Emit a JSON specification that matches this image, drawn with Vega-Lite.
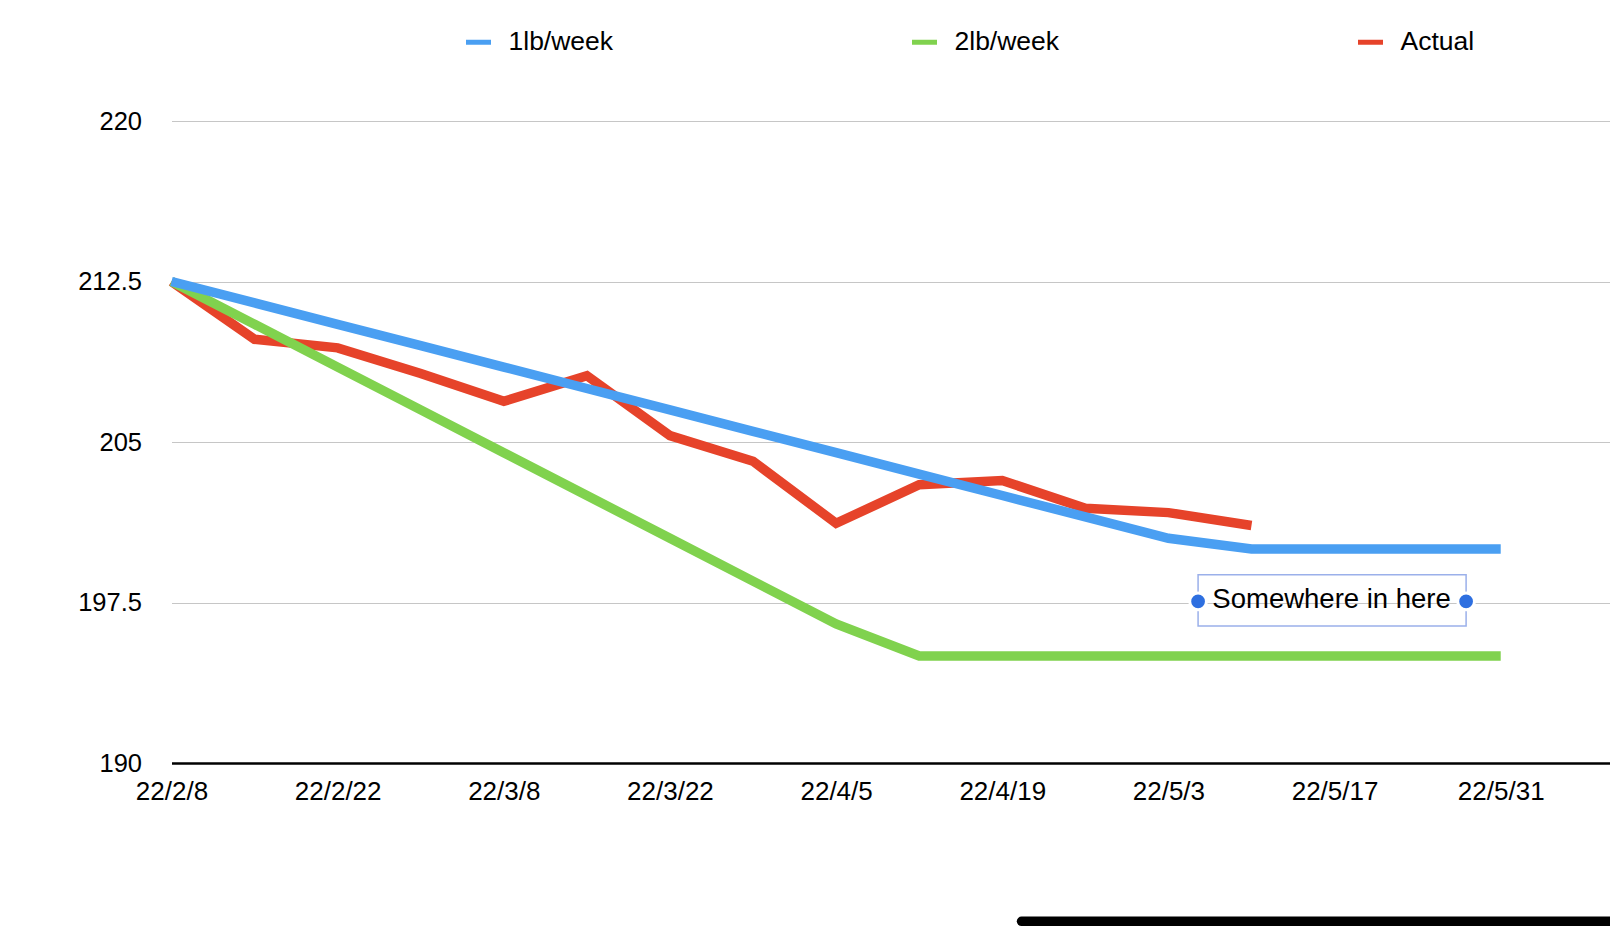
{
  "$schema": "https://vega.github.io/schema/vega-lite/v6.json",
  "width": 1438.5,
  "height": 642,
  "autosize": {"type": "none"},
  "padding": {"left": 171.5, "top": 121, "right": 0, "bottom": 180},
  "background": "white",
  "config": {"view": {"stroke": null}, "font": "Liberation Sans"},
  "datasets": {
    "series": [
      {"date": "2022-02-08", "series": "Actual", "weight": 212.5},
      {"date": "2022-02-15", "series": "Actual", "weight": 209.8},
      {"date": "2022-02-22", "series": "Actual", "weight": 209.4},
      {"date": "2022-03-01", "series": "Actual", "weight": 208.2},
      {"date": "2022-03-08", "series": "Actual", "weight": 206.9},
      {"date": "2022-03-15", "series": "Actual", "weight": 208.1},
      {"date": "2022-03-22", "series": "Actual", "weight": 205.3},
      {"date": "2022-03-29", "series": "Actual", "weight": 204.1},
      {"date": "2022-04-05", "series": "Actual", "weight": 201.2},
      {"date": "2022-04-12", "series": "Actual", "weight": 203.0},
      {"date": "2022-04-19", "series": "Actual", "weight": 203.2},
      {"date": "2022-04-26", "series": "Actual", "weight": 201.9},
      {"date": "2022-05-03", "series": "Actual", "weight": 201.7},
      {"date": "2022-05-10", "series": "Actual", "weight": 201.1},
      {"date": "2022-02-08", "series": "2lb/week", "weight": 212.5},
      {"date": "2022-02-15", "series": "2lb/week", "weight": 210.5},
      {"date": "2022-02-22", "series": "2lb/week", "weight": 208.5},
      {"date": "2022-03-01", "series": "2lb/week", "weight": 206.5},
      {"date": "2022-03-08", "series": "2lb/week", "weight": 204.5},
      {"date": "2022-03-15", "series": "2lb/week", "weight": 202.5},
      {"date": "2022-03-22", "series": "2lb/week", "weight": 200.5},
      {"date": "2022-03-29", "series": "2lb/week", "weight": 198.5},
      {"date": "2022-04-05", "series": "2lb/week", "weight": 196.5},
      {"date": "2022-04-12", "series": "2lb/week", "weight": 195},
      {"date": "2022-04-19", "series": "2lb/week", "weight": 195},
      {"date": "2022-04-26", "series": "2lb/week", "weight": 195},
      {"date": "2022-05-03", "series": "2lb/week", "weight": 195},
      {"date": "2022-05-10", "series": "2lb/week", "weight": 195},
      {"date": "2022-05-17", "series": "2lb/week", "weight": 195},
      {"date": "2022-05-24", "series": "2lb/week", "weight": 195},
      {"date": "2022-05-31", "series": "2lb/week", "weight": 195},
      {"date": "2022-02-08", "series": "1lb/week", "weight": 212.5},
      {"date": "2022-02-15", "series": "1lb/week", "weight": 211.5},
      {"date": "2022-02-22", "series": "1lb/week", "weight": 210.5},
      {"date": "2022-03-01", "series": "1lb/week", "weight": 209.5},
      {"date": "2022-03-08", "series": "1lb/week", "weight": 208.5},
      {"date": "2022-03-15", "series": "1lb/week", "weight": 207.5},
      {"date": "2022-03-22", "series": "1lb/week", "weight": 206.5},
      {"date": "2022-03-29", "series": "1lb/week", "weight": 205.5},
      {"date": "2022-04-05", "series": "1lb/week", "weight": 204.5},
      {"date": "2022-04-12", "series": "1lb/week", "weight": 203.5},
      {"date": "2022-04-19", "series": "1lb/week", "weight": 202.5},
      {"date": "2022-04-26", "series": "1lb/week", "weight": 201.5},
      {"date": "2022-05-03", "series": "1lb/week", "weight": 200.5},
      {"date": "2022-05-10", "series": "1lb/week", "weight": 200},
      {"date": "2022-05-17", "series": "1lb/week", "weight": 200},
      {"date": "2022-05-24", "series": "1lb/week", "weight": 200},
      {"date": "2022-05-31", "series": "1lb/week", "weight": 200}
    ],
    "note": [
      {"x": "2022-05-05T12:00:00Z", "x2": "2022-05-28T02:00:00Z", "y": 198.8, "y2": 196.4, "tx": "2022-05-16T18:00:00Z", "ty": 197.6, "label": "Somewhere in here"}
    ],
    "handles": [
      {"x": "2022-05-05T12:00:00Z", "y": 197.55},
      {"x": "2022-05-28T02:00:00Z", "y": 197.55}
    ],
    "bar": [
      {"x": "2022-04-20T15:00:00Z", "x2": "2022-06-25T00:00:00Z", "y": 182.6}
    ]
  },
  "layer": [
    {
      "data": {"name": "series"},
      "transform": [{"filter": "datum.series === 'Actual'"}],
      "mark": {"type": "line", "strokeWidth": 9.5},
      "encoding": {
        "x": {
          "field": "date",
          "type": "temporal",
          "scale": {
            "type": "utc",
            "nice": false,
            "domain": [
              {"year": 2022, "month": 2, "date": 8, "utc": true},
              {"year": 2022, "month": 6, "date": 9, "hours": 5, "utc": true}
            ]
          },
          "axis": {
            "title": null,
            "values": [
              {"year": 2022, "month": 2, "date": 8, "utc": true},
              {"year": 2022, "month": 2, "date": 22, "utc": true},
              {"year": 2022, "month": 3, "date": 8, "utc": true},
              {"year": 2022, "month": 3, "date": 22, "utc": true},
              {"year": 2022, "month": 4, "date": 5, "utc": true},
              {"year": 2022, "month": 4, "date": 19, "utc": true},
              {"year": 2022, "month": 5, "date": 3, "utc": true},
              {"year": 2022, "month": 5, "date": 17, "utc": true},
              {"year": 2022, "month": 5, "date": 31, "utc": true}
            ],
            "format": "%y/%-m/%-d",
            "labelFontSize": 26,
            "labelColor": "black",
            "ticks": false,
            "tickSize": 0,
            "domainColor": "black",
            "domainWidth": 2.5,
            "labelPadding": 15,
            "grid": false,
            "labelOverlap": false,
            "labelFlush": false,
            "labelBound": false
          }
        },
        "y": {
          "field": "weight",
          "type": "quantitative",
          "scale": {"domain": [190, 220], "nice": false, "zero": false},
          "axis": {
            "title": null,
            "values": [190, 197.5, 205, 212.5, 220],
            "format": ".1~f",
            "labelFontSize": 25.5,
            "labelColor": "black",
            "ticks": false,
            "tickSize": 0,
            "domain": false,
            "grid": true,
            "gridColor": "#c6c6c6",
            "gridWidth": 1,
            "labelPadding": 30
          }
        },
        "color": {
          "field": "series",
          "type": "nominal",
          "scale": {
            "domain": ["1lb/week", "2lb/week", "Actual"],
            "range": ["#4A9FF2", "#80D24E", "#E6432A"]
          },
          "legend": {
            "title": null,
            "orient": "none",
            "legendX": 292,
            "legendY": -94,
            "direction": "horizontal",
            "gridAlign": "all",
            "columnPadding": 288,
            "symbolType": "stroke",
            "symbolSize": 625,
            "symbolStrokeWidth": 5,
            "labelFontSize": 26.5,
            "labelColor": "black",
            "labelOffset": 15,
            "padding": 0
          }
        }
      }
    },
    {
      "data": {"name": "series"},
      "transform": [{"filter": "datum.series === '2lb/week'"}],
      "mark": {"type": "line", "strokeWidth": 9.5},
      "encoding": {
        "x": {"field": "date", "type": "temporal"},
        "y": {"field": "weight", "type": "quantitative"},
        "color": {"field": "series", "type": "nominal"}
      }
    },
    {
      "data": {"name": "series"},
      "transform": [{"filter": "datum.series === '1lb/week'"}],
      "mark": {"type": "line", "strokeWidth": 9.5},
      "encoding": {
        "x": {"field": "date", "type": "temporal"},
        "y": {"field": "weight", "type": "quantitative"},
        "color": {"field": "series", "type": "nominal"}
      }
    },
    {
      "data": {"name": "note"},
      "mark": {"type": "rect", "fillOpacity": 0, "stroke": "#9BB0EA", "strokeWidth": 1.5},
      "encoding": {
        "x": {"field": "x", "type": "temporal"},
        "x2": {"field": "x2"},
        "y": {"field": "y", "type": "quantitative"},
        "y2": {"field": "y2"}
      }
    },
    {
      "data": {"name": "note"},
      "mark": {"type": "text", "fontSize": 27.5, "color": "black", "align": "center", "baseline": "middle"},
      "encoding": {
        "x": {"field": "tx", "type": "temporal"},
        "y": {"field": "ty", "type": "quantitative"},
        "text": {"field": "label"}
      }
    },
    {
      "data": {"name": "handles"},
      "mark": {"type": "circle", "fill": "#2E6FE0", "stroke": "white", "strokeWidth": 3, "size": 280, "opacity": 1},
      "encoding": {
        "x": {"field": "x", "type": "temporal"},
        "y": {"field": "y", "type": "quantitative"}
      }
    },
    {
      "data": {"name": "bar"},
      "mark": {"type": "rule", "strokeWidth": 9.5, "strokeCap": "round", "color": "black"},
      "encoding": {
        "x": {"field": "x", "type": "temporal"},
        "x2": {"field": "x2"},
        "y": {"field": "y", "type": "quantitative"}
      }
    }
  ]
}
